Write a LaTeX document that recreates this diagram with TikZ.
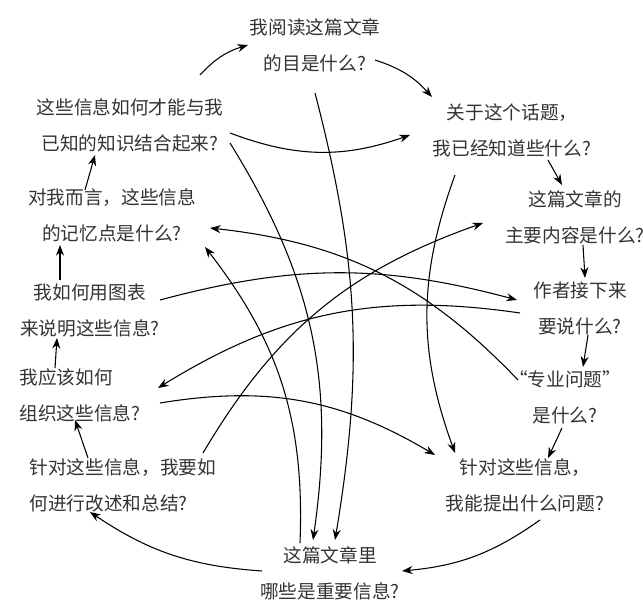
\documentclass[tikz,border=0pt]{standalone}
\usepackage{fontspec}
\newfontfamily\cjk{Noto Sans CJK SC}
\usetikzlibrary{calc,arrows.meta}
\tikzset{q/.style={font=\cjk\fontsize{14}{27}\selectfont, text=black!80, align=center, inner sep=1pt},
    link/.style={draw, line width=0.8pt, -{Stealth[length=8pt,width=6pt]}}}

\begin{document}
\begin{tikzpicture}[x=0.75pt, y=0.75pt]
        \useasboundingbox (0,0) rectangle (643,614);
        % questions round the circle
        \node[q] (n1) at (315,569) {我阅读这篇文章\\的目是什么?};
        \node[q] (n2) at (512,484) {关于这个话题，\\我已经知道些什么?};
        \node[q] (n3) at (575,397) {这篇文章的\\主要内容是什么?};
        \node[q] (n4) at (580,306) {作者接下来\\要说什么?};
        \node[q] (n5) at (565,217) {“专业问题”\\是什么?};
        \node[q] (n6) at (525,129) {针对这些信息，\\我能提出什么问题?};
        \node[q] (n7) at (330,41) {这篇文章里\\哪些是重要信息?};
        \node[q, align=left] (n8) at (123,129) {针对这些信息，我要如\\何进行改述和总结?};
        \node[q, align=left] (n9) at (80,219) {我应该如何\\组织这些信息?};
        \node[q] (n10) at (90,304) {我如何用图表\\来说明这些信息?};
        \node[q] (n11) at (112,399) {对我而言，这些信息\\的记忆点是什么?};
        \node[q] (n12) at (130,489) {这些信息如何才能与我\\已知的知识结合起来?};
        % outer ring
        \path[link] ($(n12)+(70,50)$) to[bend left=15] ($(n1)+(-67,0)$);
        \path[link] ($(n1)+(60,-15)$) to[bend left=15] ($(n2)+(-80,33)$);
        \path[link] ($(n2)+(36,-30)$) -- ($(n3)+(-13,32)$);
        \path[link] ($(n3)+(8,-28)$) -- ($(n4)+(5,30)$);
        \path[link] ($(n4)+(8,-27)$) -- ($(n5)+(18,30)$);
        \path[link] ($(n5)+(-3,-31)$) -- ($(n6)+(23,27)$);
        \path[link] ($(n6)+(15,-35)$) to[bend left=15] ($(n7)+(72,2)$);
        \path[link] ($(n7)+(-68,2)$) to[bend left=15] ($(n8)+(-33,-27)$);
        \path[link] ($(n8)+(-35,27)$) -- ($(n9)+(-5,-25)$);
        \path[link] ($(n9)+(-25,27)$) -- ($(n10)+(-33,-28)$);
        \path[link] ($(n10)+(-30,30)$) -- ($(n11)+(-52,-30)$);
        \path[link] ($(n11)+(-27,25)$) -- ($(n12)+(-35,-30)$);
        % crossing links
        \path[link] ($(n12)+(100,-8)$) to[bend right=20] ($(n2)+(-102,-5)$);
        \path[link] ($(n12)+(100,-18)$) to[bend left=20] ($(n7)+(-17,33)$);
        \path[link] ($(n1)+(0,-48)$) to[bend left=12] ($(n7)+(5,33)$);
        \path[link] ($(n2)+(-57,-45)$) to[bend right=20] ($(n6)+(-70,32)$);
        \path[link] ($(n9)+(80,-8)$) to[bend left=20] ($(n6)+(-90,30)$);
        \path[link] ($(n8)+(80,32)$) to[bend left=20] ($(n3)+(-92,-6)$);
        \path[link] ($(n7)+(-30,30)$) to[bend right=20] ($(n11)+(93,-32)$);
        \path[link] ($(n5)+(-47,17)$) to[bend right=20] ($(n11)+(98,-13)$);
        \path[link] ($(n10)+(70,10)$) to[bend left=15] ($(n4)+(-63,8)$);
        \path[link] ($(n4)+(-60,-5)$) to[bend right=20] ($(n9)+(78,7)$);
    \end{tikzpicture}
\end{document}
